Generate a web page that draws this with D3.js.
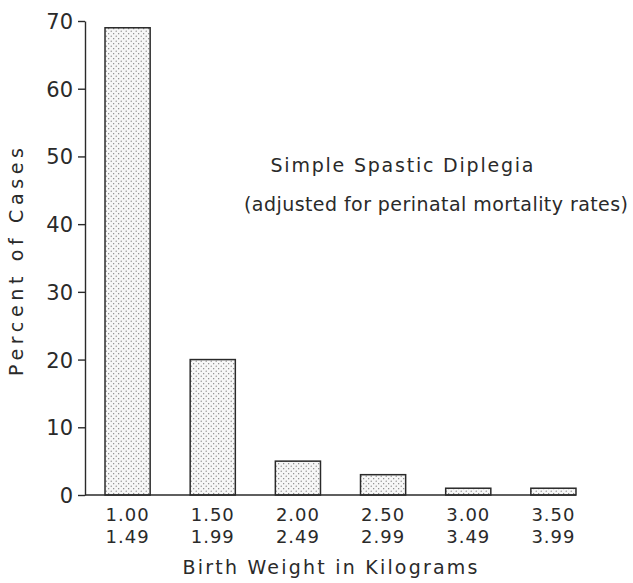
<!DOCTYPE html>
<html>
<head>
<meta charset="utf-8">
<script src="https://cdn.jsdelivr.net/npm/d3@7"></script>
<style>
  html, body { margin: 0; padding: 0; background: #fff; }
  svg text { font-family: "DejaVu Sans", sans-serif; fill: #2a2a2a; }
</style>
</head>
<body>
<div id="chart"></div>
<script>
// --- Data ---
const binStarts = ["1.00", "1.50", "2.00", "2.50", "3.00", "3.50"];
const binEnds = ["1.49", "1.99", "2.49", "2.99", "3.49", "3.99"];
const percentOfCases = [69, 20, 5, 3, 1, 1];
const yTickValues = [0, 10, 20, 30, 40, 50, 60, 70];
const titleLines = ["Simple Spastic Diplegia", "(adjusted for perinatal mortality rates)"];
const xTitle = "Birth Weight in Kilograms";
const yTitle = "Percent of Cases";

const W = 633, H = 583;
const ink = "#2a2a2a";

const svg = d3.select("#chart").append("svg")
  .attr("width", W)
  .attr("height", H);

// stipple fill for the bars (sparse dots on white)
const defs = svg.append("defs");
const pat = defs.append("pattern")
  .attr("id", "stipple")
  .attr("patternUnits", "userSpaceOnUse")
  .attr("width", 5)
  .attr("height", 5);
pat.append("rect").attr("width", 5).attr("height", 5).attr("fill", "#f7f7f7");
pat.append("circle").attr("cx", 1.2).attr("cy", 1.2).attr("r", 0.6).attr("fill", "#707070");
pat.append("circle").attr("cx", 3.7).attr("cy", 3.7).attr("r", 0.6).attr("fill", "#707070");

// --- Scales ---
const x = d3.scaleBand()
  .domain(binStarts)
  .range([85, 596])
  .paddingInner(0.47)
  .paddingOuter(0.235);

const y = d3.scaleLinear()
  .domain([0, 70])
  .range([495, 21]);

// --- Y axis ---
const yAxis = d3.axisLeft(y)
  .tickValues(yTickValues)
  .tickSize(7)
  .tickSizeOuter(0)
  .tickPadding(5);

const gy = svg.append("g")
  .attr("transform", "translate(85,0)")
  .call(yAxis);
gy.select(".domain").attr("stroke", ink).attr("stroke-width", 1.4);
gy.selectAll(".tick line").attr("stroke", ink).attr("stroke-width", 1.4);
gy.selectAll(".tick text")
  .style("font-size", "21px")
  .attr("fill", ink)
  .attr("dy", "0.36em");

// --- Bars ---
svg.append("g")
  .selectAll("rect")
  .data(percentOfCases)
  .join("rect")
  .attr("x", (d, i) => x(binStarts[i]))
  .attr("y", d => y(d))
  .attr("width", x.bandwidth())
  .attr("height", d => y(0) - y(d))
  .attr("fill", "url(#stipple)")
  .attr("stroke", ink)
  .attr("stroke-width", 1.5);

// baseline along the bottom, ending at the last bar
svg.append("line")
  .attr("x1", 85)
  .attr("x2", x(binStarts[binStarts.length - 1]) + x.bandwidth())
  .attr("y1", y(0))
  .attr("y2", y(0))
  .attr("stroke", ink)
  .attr("stroke-width", 1.5);

// --- X tick labels (two rows) ---
const xl = svg.append("g").selectAll("g")
  .data(binStarts)
  .join("g")
  .attr("transform", d => `translate(${x(d) + x.bandwidth() / 2},0)`);
xl.append("text")
  .attr("y", 521)
  .attr("text-anchor", "middle")
  .style("font-size", "18px")
  .style("letter-spacing", "1px")
  .text(d => d);
xl.append("text")
  .attr("y", 543)
  .attr("text-anchor", "middle")
  .style("font-size", "18px")
  .style("letter-spacing", "1px")
  .text((d, i) => binEnds[i]);

// --- Axis titles ---
svg.append("text")
  .attr("x", 330)
  .attr("y", 574)
  .attr("text-anchor", "middle")
  .attr("textLength", 295)
  .attr("lengthAdjust", "spacing")
  .style("font-size", "19px")
  .text(xTitle);

svg.append("text")
  .attr("transform", "translate(23,262) rotate(-90)")
  .attr("text-anchor", "middle")
  .attr("textLength", 228)
  .attr("lengthAdjust", "spacing")
  .style("font-size", "19px")
  .text(yTitle);

// --- Annotation ---
svg.append("text")
  .attr("x", 402)
  .attr("y", 172)
  .attr("text-anchor", "middle")
  .attr("textLength", 263)
  .attr("lengthAdjust", "spacing")
  .style("font-size", "19px")
  .text(titleLines[0]);

svg.append("text")
  .attr("x", 436)
  .attr("y", 211)
  .attr("text-anchor", "middle")
  .attr("textLength", 384)
  .attr("lengthAdjust", "spacing")
  .style("font-size", "19px")
  .text(titleLines[1]);
</script>
</body>
</html>
